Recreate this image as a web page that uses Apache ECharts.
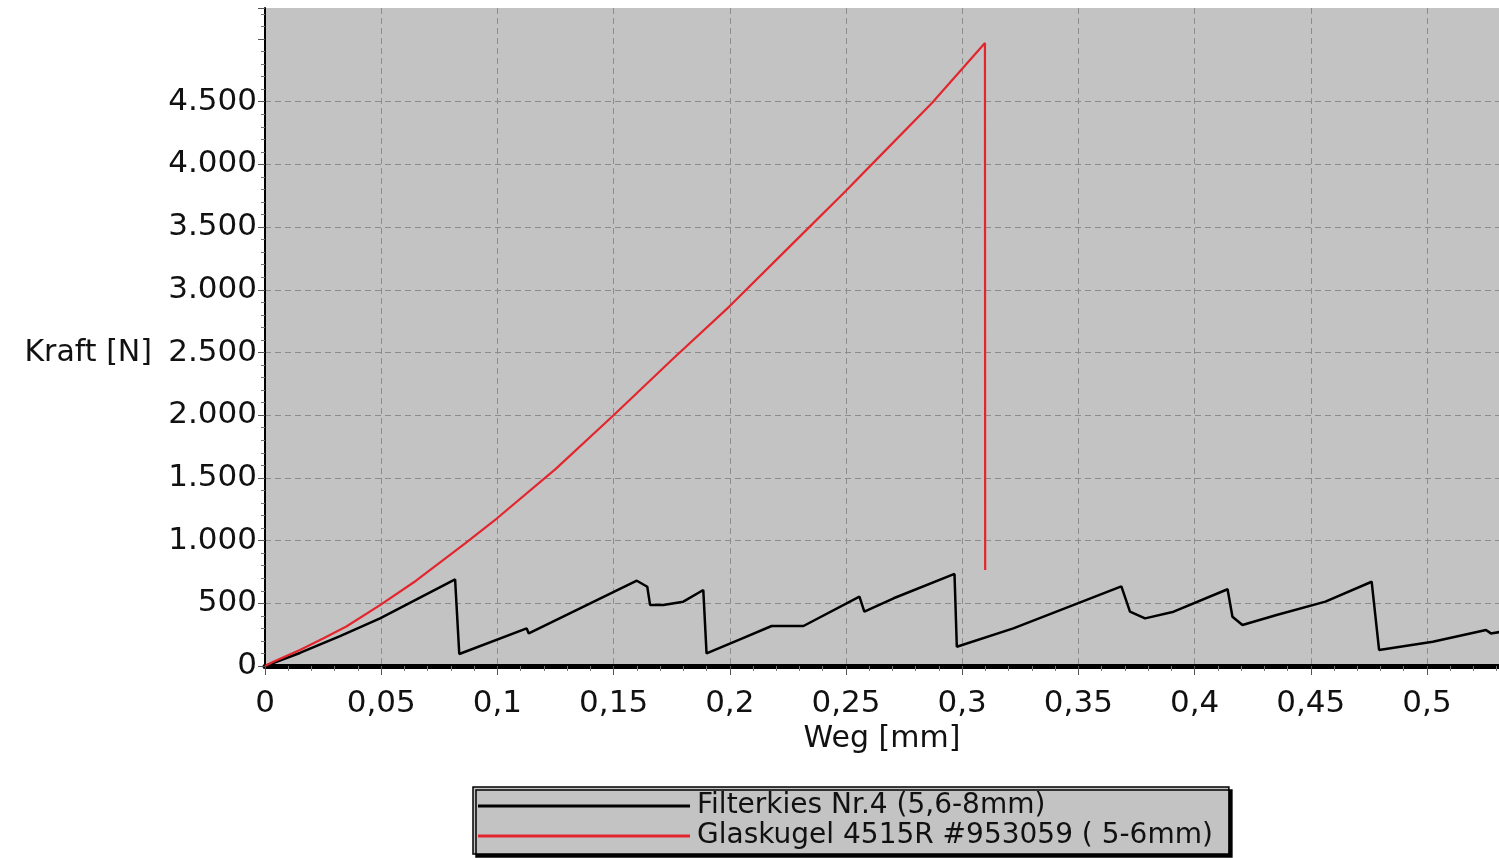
<!DOCTYPE html>
<html>
<head>
<meta charset="utf-8">
<script src="https://cdn.jsdelivr.net/npm/echarts@6/dist/echarts.min.js"></script>
<style>
html,body{margin:0;padding:0;background:#fff;}
#c{width:1499px;height:858px;}
</style>
</head>
<body>
<div id="c"></div>
<script>
// Series names
const seriesNames = ['Filterkies Nr.4 (5,6-8mm)', 'Glaskugel 4515R #953059 ( 5-6mm)'];

// Filterkies: Weg [mm] / Kraft [N]
const filterX = [0, 0.015, 0.0323, 0.0495, 0.0818, 0.0836, 0.1126, 0.1135, 0.16, 0.1645, 0.1657, 0.1714, 0.18, 0.1886, 0.190, 0.2044, 0.218, 0.2317, 0.2558, 0.2579, 0.2705, 0.2967, 0.2977, 0.322, 0.3685, 0.3722, 0.3787, 0.391, 0.4142, 0.4163, 0.4206, 0.4353, 0.4563, 0.4762, 0.4794, 0.5025, 0.5254, 0.5275, 0.532];
const filterY = [0, 104, 239, 380, 691, 96, 300, 260, 680, 632, 487, 487, 513, 606, 101, 213, 319, 319, 553, 433, 540, 734, 154, 300, 635, 433, 380, 433, 612, 393, 327, 407, 513, 672, 128, 194, 287, 260, 273];

// Glaskugel: Weg [mm] / Kraft [N]
const glasX = [0, 0.0036, 0.015, 0.025, 0.035, 0.0495, 0.065, 0.086, 0.1, 0.125, 0.15, 0.175, 0.2, 0.225, 0.25, 0.2632, 0.287, 0.3098, 0.3099];
const glasY = [0, 34, 128, 220, 315, 486, 680, 975, 1180, 1570, 2000, 2440, 2870, 3330, 3790, 4040, 4490, 4968, 766];

const xTickInterval = 0.05;
const yTickInterval = 500;

function pairs(xs, ys){ return xs.map((x,i)=>[x, ys[i]]); }

const FONT = 'DejaVu Sans';
const chart = echarts.init(document.getElementById('c'), null, {renderer:'canvas'});

// 12 split lines on y: 0..4500 shown, 5000 and top hidden
const ySplitColors = [];
for (let i = 0; i < 12; i++) ySplitColors.push(i <= 9 ? '#8c8c8c' : 'rgba(0,0,0,0)');

chart.setOption({
  animation: false,
  backgroundColor: '#ffffff',
  grid: {
    left: 265, right: 0, top: 8, bottom: 192,
    show: true, backgroundColor: '#c3c3c3', borderWidth: 0
  },
  legend: {
    orient: 'vertical',
    left: 473, top: 787,
    backgroundColor: '#c3c3c3',
    borderColor: '#000', borderWidth: 1.5,
    shadowColor: '#000', shadowOffsetX: 3, shadowOffsetY: 3, shadowBlur: 0,
    padding: [4, 16, 3, 5],
    icon: 'rect',
    itemWidth: 212, itemHeight: 3, itemGap: 0,
    textStyle: {fontFamily: FONT, fontSize: 28, color: '#111', lineHeight: 30, padding: [0,0,0,2]},
    data: seriesNames
  },
  xAxis: [{
    type: 'value', min: 0, max: 0.531, interval: xTickInterval,
    name: 'Weg [mm]', nameLocation: 'middle', nameGap: 57,
    nameTextStyle: {fontFamily: FONT, fontSize: 30, color: '#111'},
    axisLine: {show: true, onZero: false, lineStyle: {color: '#000', width: 5}},
    axisTick: {show: true, length: 9, lineStyle: {color: '#555', width: 1}},
    minorTick: {show: true, splitNumber: 5, length: 5, lineStyle: {color: '#777', width: 1}},
    axisLabel: {
      fontFamily: FONT, fontSize: 31, color: '#111', margin: 22,
      showMaxLabel: false,
      formatter: v => v > 0.5001 ? '' : String(Math.round(v * 1000) / 1000).replace('.', ',')
    },
    splitLine: {show: true, lineStyle: {color: '#8c8c8c', type: [6, 4], width: 1}}
  }, {
    type: 'value', min: 0, max: 0.531, position: 'top',
    axisLine: {show: true, lineStyle: {color: '#000', width: 2}},
    axisTick: {show: false}, axisLabel: {show: false}, splitLine: {show: false}
  }],
  yAxis: {
    type: 'value', min: 0, max: 5247, interval: yTickInterval,
    name: 'Kraft [N]', nameLocation: 'middle', nameGap: 113, nameRotate: 0,
    nameTextStyle: {fontFamily: FONT, fontSize: 30, color: '#111', align: 'right', verticalAlign: 'top', lineHeight: 32},
    axisLine: {show: true, lineStyle: {color: '#000', width: 2}},
    axisTick: {show: true, length: 7, lineStyle: {color: '#555', width: 1}},
    minorTick: {show: true, splitNumber: 5, length: 4, lineStyle: {color: '#777', width: 1}},
    axisLabel: {
      fontFamily: FONT, fontSize: 31, color: '#111', margin: 8,
      formatter: v => v > 4500 ? '' : (v >= 1000 ? Math.floor(v/1000) + '.' + String(v % 1000).padStart(3, '0') : String(v))
    },
    splitLine: {show: true, lineStyle: {color: ySplitColors, type: [6, 4], width: 1}}
  },
  series: [{
    name: seriesNames[0], type: 'line', data: pairs(filterX, filterY),
    showSymbol: false, symbol: 'none',
    lineStyle: {color: '#000', width: 2.5}, itemStyle: {color: '#000'}
  }, {
    name: seriesNames[1], type: 'line', data: pairs(glasX, glasY),
    showSymbol: false, symbol: 'none',
    lineStyle: {color: '#e3262e', width: 2.2}, itemStyle: {color: '#e3262e'}
  }]
});
</script>
</body>
</html>
